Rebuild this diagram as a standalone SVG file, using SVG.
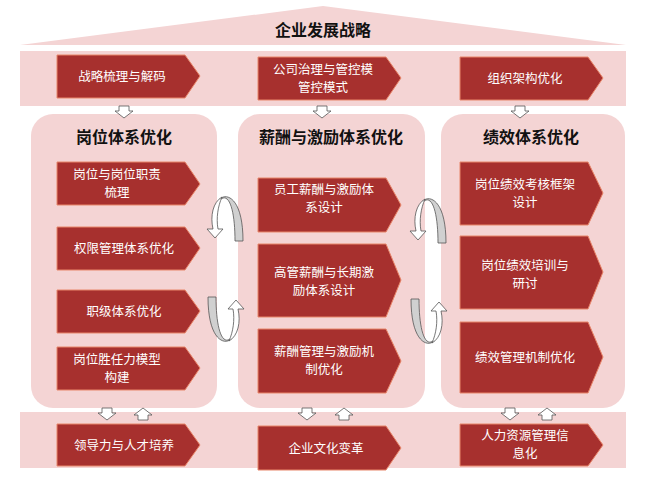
<svg xmlns="http://www.w3.org/2000/svg" width="646" height="488" viewBox="0 0 646 488">
<style>
.band{fill:#f4d4d4}
.col{fill:#f4d4d4}
.chev{fill:#a7302e;stroke:#e8866a;stroke-width:1}
.t{font-family:"Noto Sans CJK SC","Liberation Sans",sans-serif;font-size:12.5px;fill:#fff;text-anchor:middle}
.h{font-family:"Noto Sans CJK SC","Liberation Sans",sans-serif;font-size:16px;font-weight:bold;fill:#111;text-anchor:middle}
.ar{fill:#fff;stroke:#555;stroke-width:0.8}
.loop{fill:#d0d0d0;stroke:#555;stroke-width:0.8}
</style>
<rect width="646" height="488" fill="#fff"/>
<g id="roof"><polygon class="band" points="20,45 323,6 626,45"/><text class="h" x="323" y="36" font-size="18">企业发展战略</text></g>
<g id="topband"><rect class="band" x="20" y="51" width="606" height="55"/></g>
<g id="bottomband"><rect class="band" x="20" y="412" width="606" height="56"/></g>
<g id="col1"><rect class="col" x="31" y="114" width="186" height="294" rx="22"/><text class="h" x="124" y="143">岗位体系优化</text></g>
<g id="col2"><rect class="col" x="238" y="114" width="187" height="294" rx="22"/><text class="h" x="331" y="143">薪酬与激励体系优化</text></g>
<g id="col3"><rect class="col" x="441" y="114" width="184" height="294" rx="22"/><text class="h" x="531" y="143">绩效体系优化</text></g>
<g id="n1"><polygon class="chev" points="57,55 185,55 200,76 185,98 57,98"/><text class="t" x="122" y="81">战略梳理与解码</text></g>
<g id="n2"><polygon class="chev" points="258,57 386,57 401,78 386,100 258,100"/><text class="t" x="323" y="74">公司治理与管控模</text><text class="t" x="323" y="92">管控模式</text></g>
<g id="n3"><polygon class="chev" points="460,57 588,57 603,78 588,100 460,100"/><text class="t" x="525" y="83">组织架构优化</text></g>
<g id="n4"><polygon class="chev" points="57,162 185,162 200,184 185,205 57,205"/><text class="t" x="117" y="179">岗位与岗位职责</text><text class="t" x="117" y="197">梳理</text></g>
<g id="n5"><polygon class="chev" points="57,227 185,227 200,248 185,270 57,270"/><text class="t" x="124" y="253">权限管理体系优化</text></g>
<g id="n6"><polygon class="chev" points="57,290 185,290 200,311 185,333 57,333"/><text class="t" x="124" y="316">职级体系优化</text></g>
<g id="n7"><polygon class="chev" points="57,347 185,347 200,368 185,390 57,390"/><text class="t" x="117" y="364">岗位胜任力模型</text><text class="t" x="117" y="382">构建</text></g>
<g id="n8"><polygon class="chev" points="258,178 386,178 401,205 386,232 258,232"/><text class="t" x="324" y="194">员工薪酬与激励体</text><text class="t" x="324" y="212">系设计</text></g>
<g id="n9"><polygon class="chev" points="258,244 386,244 401,280 386,317 258,317"/><text class="t" x="324" y="277">高管薪酬与长期激</text><text class="t" x="324" y="295">励体系设计</text></g>
<g id="n10"><polygon class="chev" points="258,329 386,329 401,361 386,393 258,393"/><text class="t" x="324" y="356">薪酬管理与激励机</text><text class="t" x="324" y="374">制优化</text></g>
<g id="n11"><polygon class="chev" points="460,162 588,162 603,193 588,225 460,225"/><text class="t" x="525" y="189">岗位绩效考核框架</text><text class="t" x="525" y="207">设计</text></g>
<g id="n12"><polygon class="chev" points="460,236 588,236 603,272 588,309 460,309"/><text class="t" x="525" y="270">岗位绩效培训与</text><text class="t" x="525" y="288">研讨</text></g>
<g id="n13"><polygon class="chev" points="460,322 588,322 603,357 588,393 460,393"/><text class="t" x="525" y="362">绩效管理机制优化</text></g>
<g id="n14"><polygon class="chev" points="57,424 185,424 200,445 185,466 57,466"/><text class="t" x="124" y="450">领导力与人才培养</text></g>
<g id="n15"><polygon class="chev" points="258,426 386,426 401,448 386,470 258,470"/><text class="t" x="326" y="453">企业文化变革</text></g>
<g id="n16"><polygon class="chev" points="460,424 588,424 603,445 588,466 460,466"/><text class="t" x="525" y="440">人力资源管理信</text><text class="t" x="525" y="458">息化</text></g>
<g id="connectors">
<defs>
<path id="dn" d="M-5,0 H5 V5 H9 L0,12 L-9,5 H-5 Z"/>
<path id="up" d="M-5,12 H5 V7 H9 L0,0 L-9,7 H-5 Z"/>
<g id="cw"><path class="loop" d="M38,45 C38,0 20,-4 14,4 L18,2 C26,0 30,20 30,45 Z"/><path class="ar" d="M17,1 C8,6 5,20 8,33 L2,33 L10,42 L18,33 L13,33 C11,22 13,10 17,1 Z"/></g>
</defs>
<use href="#dn" class="ar" x="124" y="106"/>
<use href="#dn" class="ar" x="322" y="106"/>
<use href="#dn" class="ar" x="520" y="106"/>
<use href="#dn" class="ar" x="107" y="408"/><use href="#up" class="ar" x="143" y="408"/>
<use href="#dn" class="ar" x="307" y="408"/><use href="#up" class="ar" x="344" y="408"/>
<use href="#dn" class="ar" x="510" y="408"/><use href="#up" class="ar" x="547" y="408"/>
<use href="#cw" x="205" y="196"/>
<use href="#cw" x="408" y="198"/>
<use href="#cw" transform="translate(246,342) rotate(180)"/>
<use href="#cw" transform="translate(449,344) rotate(180)"/>
</g>
</svg>
